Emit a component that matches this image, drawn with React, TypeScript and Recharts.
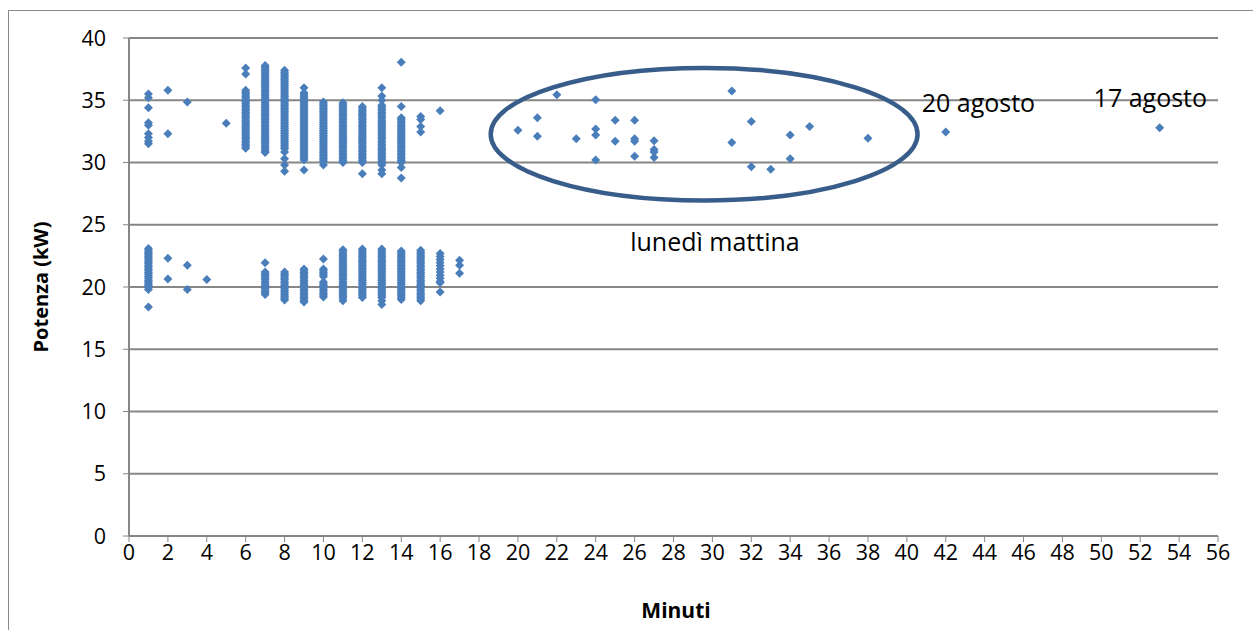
import React from 'react';
import {
  ScatterChart,
  Scatter,
  XAxis,
  YAxis,
  CartesianGrid,
  ReferenceArea,
  ReferenceDot,
  Label,
} from 'recharts';

// minutes (x) of each column in the upper band (~30-38 kW)
const upperMinutes = [1, 2, 3, 5, 6, 7, 8, 9, 10, 11, 12, 13, 14, 15, 16];
const upperPower = [
  [35.5, 35.2, 34.4, 33.2, 33.0, 32.3, 32.0, 31.7, 31.5],
  [35.8, 32.3],
  [34.85],
  [33.15],
  [37.6, 37.1, 35.8, 35.65, 35.5, 35.35, 35.2, 35.05, 34.9, 34.75, 34.6, 34.45, 34.3, 34.15, 34.0, 33.85, 33.7, 33.55, 33.4, 33.25, 33.1, 32.95, 32.8, 32.65, 32.5, 32.35, 32.2, 32.05, 31.9, 31.75, 31.6, 31.45, 31.3, 31.15],
  [37.8, 37.65, 37.5, 37.35, 37.2, 37.05, 36.9, 36.75, 36.6, 36.45, 36.3, 36.15, 36.0, 35.85, 35.7, 35.55, 35.4, 35.25, 35.1, 34.95, 34.8, 34.65, 34.5, 34.35, 34.2, 34.05, 33.9, 33.75, 33.6, 33.45, 33.3, 33.15, 33.0, 32.85, 32.7, 32.55, 32.4, 32.25, 32.1, 31.95, 31.8, 31.65, 31.5, 31.35, 31.2, 31.05, 30.9, 30.8],
  [37.4, 37.25, 37.1, 36.95, 36.8, 36.65, 36.5, 36.35, 36.2, 36.05, 35.9, 35.75, 35.6, 35.45, 35.3, 35.15, 35.0, 34.85, 34.7, 34.55, 34.4, 34.25, 34.1, 33.95, 33.8, 33.65, 33.5, 33.35, 33.2, 33.05, 32.9, 32.75, 32.6, 32.45, 32.3, 32.15, 32.0, 31.85, 31.7, 31.55, 31.4, 31.25, 31.1, 30.85, 30.3, 29.8, 29.3],
  [36.0, 35.6, 35.45, 35.3, 35.15, 35.0, 34.85, 34.7, 34.55, 34.4, 34.25, 34.1, 33.95, 33.8, 33.65, 33.5, 33.35, 33.2, 33.05, 32.9, 32.75, 32.6, 32.45, 32.3, 32.15, 32.0, 31.85, 31.7, 31.55, 31.4, 31.25, 31.1, 30.95, 30.8, 30.65, 30.5, 30.35, 30.2, 29.4],
  [34.85, 34.7, 34.55, 34.4, 34.25, 34.1, 33.95, 33.8, 33.65, 33.5, 33.35, 33.2, 33.05, 32.9, 32.75, 32.6, 32.45, 32.3, 32.15, 32.0, 31.85, 31.7, 31.55, 31.4, 31.25, 31.1, 30.95, 30.8, 30.65, 30.5, 30.35, 30.2, 30.05, 29.8],
  [34.8, 34.65, 34.5, 34.35, 34.2, 34.05, 33.9, 33.75, 33.6, 33.45, 33.3, 33.15, 33.0, 32.85, 32.7, 32.55, 32.4, 32.25, 32.1, 31.95, 31.8, 31.65, 31.5, 31.35, 31.2, 31.05, 30.9, 30.75, 30.6, 30.45, 30.3, 30.15, 30.0],
  [34.5, 34.35, 34.2, 34.05, 33.9, 33.75, 33.6, 33.45, 33.3, 33.15, 33.0, 32.85, 32.7, 32.55, 32.4, 32.25, 32.1, 31.95, 31.8, 31.65, 31.5, 31.35, 31.2, 31.05, 30.9, 30.75, 30.6, 30.45, 30.3, 30.15, 30.0, 29.1],
  [36.0, 35.35, 35.0, 34.6, 34.45, 34.3, 34.15, 34.0, 33.85, 33.7, 33.55, 33.4, 33.25, 33.1, 32.95, 32.8, 32.65, 32.5, 32.35, 32.2, 32.05, 31.9, 31.75, 31.6, 31.45, 31.3, 31.15, 31.0, 30.85, 30.7, 30.55, 30.4, 30.25, 30.1, 29.95, 29.8, 29.4, 29.1],
  [38.05, 34.5, 33.6, 33.45, 33.3, 33.15, 33.0, 32.85, 32.7, 32.55, 32.4, 32.25, 32.1, 31.95, 31.8, 31.65, 31.5, 31.35, 31.2, 31.05, 30.9, 30.75, 30.6, 30.45, 30.3, 30.15, 30.0, 29.6, 28.75],
  [33.7, 33.45, 32.9, 32.45],
  [34.15],
];

// lower band (~19-23 kW)
const lowerMinutes = [1, 2, 3, 4, 7, 8, 9, 10, 11, 12, 13, 14, 15, 16, 17];
const lowerPower = [
  [23.1, 22.95, 22.8, 22.65, 22.5, 22.35, 22.2, 22.05, 21.9, 21.75, 21.6, 21.45, 21.3, 21.15, 21.0, 20.85, 20.7, 20.55, 20.4, 20.25, 20.1, 19.95, 19.8, 18.4],
  [22.3, 20.65],
  [21.75, 19.8],
  [20.6],
  [21.95, 21.2, 21.05, 20.9, 20.75, 20.6, 20.45, 20.3, 20.15, 20.0, 19.85, 19.7, 19.55, 19.4],
  [21.2, 21.05, 20.9, 20.75, 20.6, 20.45, 20.3, 20.15, 20.0, 19.85, 19.7, 19.55, 19.4, 19.25, 19.1, 18.95],
  [21.45, 21.3, 21.15, 21.0, 20.85, 20.7, 20.55, 20.4, 20.25, 20.1, 19.95, 19.8, 19.65, 19.5, 19.35, 19.2, 19.05, 18.9, 18.8],
  [22.25, 21.45, 21.3, 21.15, 21.0, 20.85, 20.4, 20.25, 20.1, 19.95, 19.8, 19.65, 19.5, 19.35, 19.2],
  [23.0, 22.85, 22.7, 22.55, 22.4, 22.25, 22.1, 21.95, 21.8, 21.65, 21.5, 21.35, 21.2, 21.05, 20.9, 20.75, 20.6, 20.45, 20.3, 20.15, 20.0, 19.85, 19.7, 19.55, 19.4, 19.25, 19.1, 18.9],
  [23.05, 22.9, 22.75, 22.6, 22.45, 22.3, 22.15, 22.0, 21.85, 21.7, 21.55, 21.4, 21.25, 21.1, 20.95, 20.8, 20.65, 20.5, 20.35, 20.2, 20.05, 19.9, 19.75, 19.6, 19.45, 19.3, 19.15],
  [23.05, 22.9, 22.75, 22.6, 22.45, 22.3, 22.15, 22.0, 21.85, 21.7, 21.55, 21.4, 21.25, 21.1, 20.95, 20.8, 20.65, 20.5, 20.35, 20.2, 20.05, 19.9, 19.75, 19.6, 19.45, 19.3, 19.15, 18.9, 18.6],
  [22.9, 22.75, 22.6, 22.45, 22.3, 22.15, 22.0, 21.85, 21.7, 21.55, 21.4, 21.25, 21.1, 20.95, 20.8, 20.65, 20.5, 20.35, 20.2, 20.05, 19.9, 19.75, 19.6, 19.45, 19.3, 19.15, 19.0],
  [22.95, 22.8, 22.65, 22.5, 22.35, 22.2, 22.05, 21.9, 21.75, 21.6, 21.45, 21.3, 21.15, 21.0, 20.85, 20.7, 20.55, 20.4, 20.25, 20.1, 19.95, 19.8, 19.65, 19.5, 19.35, 19.2, 19.05, 18.9],
  [22.7, 22.45, 22.2, 21.95, 21.7, 21.45, 21.2, 20.95, 20.7, 20.45, 20.35, 19.6],
  [22.15, 21.75, 21.1],
];

// monday morning points (inside the ellipse)
const mondayMinutes = [20, 21, 21, 22, 23, 24, 24, 24, 24, 25, 25, 26, 26, 26, 26, 27, 27, 27, 27, 31, 31, 32, 32, 33, 34, 34, 35, 38];
const mondayPower = [32.6, 33.6, 32.1, 35.45, 31.9, 35.05, 32.7, 32.2, 30.2, 33.4, 31.7, 33.4, 31.9, 31.7, 30.5, 31.75, 31.05, 30.85, 30.4, 35.75, 31.6, 33.3, 29.65, 29.45, 32.2, 30.3, 32.9, 31.95];

// isolated days
const outlierMinutes = [42, 53];
const outlierPower = [32.45, 32.8];

const xTicks = [0, 2, 4, 6, 8, 10, 12, 14, 16, 18, 20, 22, 24, 26, 28, 30, 32, 34, 36, 38, 40, 42, 44, 46, 48, 50, 52, 54, 56];
const yTicks = [0, 5, 10, 15, 20, 25, 30, 35, 40];

// annotations, in data units
const ellipseBox = { x1: 18.6, x2: 40.55, y1: 26.95, y2: 37.6 };
const notes = [
  { x: 43.68, y: 34.05, text: '20 agosto' },
  { x: 52.52, y: 34.45, text: '17 agosto' },
  { x: 30.13, y: 22.9, text: 'lunedì mattina' },
];

const BLUE = '#4a7ebb';
const GRID = '#868686';
const FONT = '"Open Sans", sans-serif';
const TICK_SIZE = 21.5;

const columns = (minutes: number[], power: number[][]) =>
  minutes.flatMap((m, i) => power[i].map(p => ({ x: m, y: p })));

const data = [
  ...columns(upperMinutes, upperPower),
  ...columns(lowerMinutes, lowerPower),
  ...mondayMinutes.map((m, i) => ({ x: m, y: mondayPower[i] })),
  ...outlierMinutes.map((m, i) => ({ x: m, y: outlierPower[i] })),
];

const Diamond = (props: any) => {
  const { cx, cy } = props;
  const r = 4.5;
  return <path d={`M${cx},${cy - r}L${cx + r},${cy}L${cx},${cy + r}L${cx - r},${cy}Z`} fill={BLUE} />;
};

const XTick = (p: any) => (
  <text x={p.x} y={p.y} dy="0.72em" textAnchor="middle" fontSize={TICK_SIZE} fontFamily={FONT} fill="#000">
    {p.payload.value}
  </text>
);

const YTick = (p: any) => (
  <text x={p.x} y={p.y} dy="0.36em" textAnchor="end" fontSize={TICK_SIZE} fontFamily={FONT} fill="#000">
    {p.payload.value}
  </text>
);

export default function App() {
  return (
    <div
      style={{
        position: 'absolute',
        left: 8,
        top: 10,
        width: 1245,
        height: 620,
        boxSizing: 'border-box',
        borderTop: '1px solid #8a8a8a',
        borderLeft: '1px solid #8a8a8a',
        background: '#fff',
      }}
    >
      <ScatterChart
        width={1244}
        height={619}
        margin={{ top: 27, right: 35, bottom: 14, left: 10 }}
        style={{ fontFamily: FONT }}
      >
        <CartesianGrid vertical={false} stroke={GRID} strokeWidth={2} />
        <XAxis
          type="number"
          dataKey="x"
          domain={[0, 56]}
          ticks={xTicks}
          interval={0}
          height={80}
          tickSize={6}
          tickMargin={3}
          axisLine={{ stroke: GRID, strokeWidth: 2 }}
          tickLine={{ stroke: GRID }}
          tick={XTick}
        >
          <Label
            content={(p: any) => {
              const vb = p.viewBox;
              return (
                <text
                  x={vb.x + vb.width / 2 + 2.5}
                  y={vb.y + 74}
                  textAnchor="middle"
                  dominantBaseline="central"
                  fontWeight="bold"
                  fontSize={21}
                  fontFamily={FONT}
                  fill="#000"
                >
                  Minuti
                </text>
              );
            }}
          />
        </XAxis>
        <YAxis
          type="number"
          dataKey="y"
          domain={[0, 40]}
          ticks={yTicks}
          interval={0}
          width={110}
          tickSize={6}
          tickMargin={17}
          axisLine={{ stroke: GRID, strokeWidth: 2 }}
          tickLine={{ stroke: GRID }}
          tick={YTick}
        >
          <Label
            content={(p: any) => {
              const vb = p.viewBox;
              const x = vb.x + 21;
              const y = vb.y + vb.height / 2;
              return (
                <text
                  x={x}
                  y={y}
                  transform={`rotate(-90, ${x}, ${y})`}
                  textAnchor="middle"
                  dominantBaseline="central"
                  fontWeight="bold"
                  fontSize={20}
                  fontFamily={FONT}
                  fill="#000"
                >
                  Potenza (kW)
                </text>
              );
            }}
          />
        </YAxis>
        <Scatter data={data} shape={Diamond} isAnimationActive={false} />
        <ReferenceArea
          {...ellipseBox}
          shape={(p: any) => (
            <ellipse
              cx={p.x + p.width / 2}
              cy={p.y + p.height / 2}
              rx={Math.abs(p.width) / 2}
              ry={Math.abs(p.height) / 2}
              fill="none"
              stroke="#385d8a"
              strokeWidth={4.5}
            />
          )}
        />
        {notes.map(n => (
          <ReferenceDot
            key={n.text}
            x={n.x}
            y={n.y}
            r={0}
            shape={(p: any) => (
              <text x={p.cx} y={p.cy} textAnchor="middle" fontSize={25} fontFamily={FONT} fill="#000">
                {n.text}
              </text>
            )}
          />
        ))}
      </ScatterChart>
    </div>
  );
}
